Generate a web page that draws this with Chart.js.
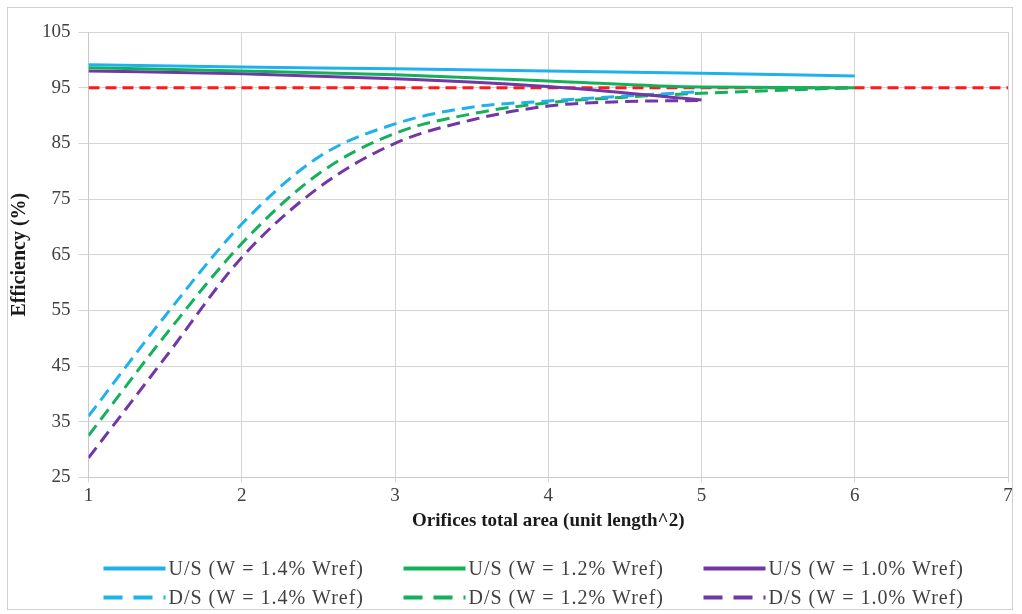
<!DOCTYPE html>
<html>
<head>
<meta charset="utf-8">
<script src="https://cdn.jsdelivr.net/npm/chart.js@4.4.1/dist/chart.umd.min.js"></script>
<style>
  html, body { margin: 0; padding: 0; background: #fff; }
  #wrap { position: relative; width: 1022px; height: 614px; }
  #frame { position: absolute; left: 7px; top: 7px; width: 1004px; height: 601px; border: 1px solid #d0d0d0; pointer-events: none; }
</style>
</head>
<body>
<div id="wrap">
  <canvas id="effChart" width="1022" height="614"></canvas>
  <div id="frame"></div>
</div>
<script>
// --- data ---
const usArea = [1, 2, 3, 4, 5, 6];
const usW14 = [99.1, 98.7, 98.4, 98.0, 97.6, 97.1];
const usW12 = [98.6, 98.0, 97.3, 96.2, 95.1, 95.0];
const usW10Area = [1, 2, 3, 4, 5];
const usW10 = [98.0, 97.5, 96.6, 95.2, 92.8];

const dsArea = [1, 1.5, 2, 2.5, 3, 3.5, 4, 4.5, 5];
const dsW14 = [36.0, 54.0, 70.5, 82.5, 88.5, 91.5, 92.6, 93.5, 94.3];
const dsW12Area = [1, 1.5, 2, 2.5, 3, 3.5, 4, 4.5, 5, 6];
const dsW12 = [32.5, 50.5, 67.0, 79.5, 86.8, 90.3, 92.3, 93.3, 94.0, 95.0];
const dsW10 = [28.5, 46.5, 64.5, 77.0, 85.0, 89.2, 91.7, 92.5, 92.7];

const limitArea = [1, 7];
const limitValue = [95, 95];

const xTicks = [1, 2, 3, 4, 5, 6, 7];
const yTicks = [25, 35, 45, 55, 65, 75, 85, 95, 105];

const BLUE = '#1fb1ee', GREEN = '#14b05a', PURPLE = '#7236a6', RED = '#ff1a1a';
const SERIF = '"Liberation Serif", "DejaVu Serif", serif';

const pts = (xs, ys) => xs.map((x, i) => ({ x: x, y: ys[i] }));

function line(label, xs, ys, color, dashed) {
  return {
    label: label,
    data: pts(xs, ys),
    borderColor: color,
    backgroundColor: color,
    borderWidth: 3,
    borderDash: dashed ? [13, 7] : [],
    pointRadius: 0,
    cubicInterpolationMode: 'monotone',
    fill: false
  };
}

// legend drawn in two rows of three, like the Excel original
const gridLegend = {
  id: 'gridLegend',
  afterDraw(chart) {
    const ctx = chart.ctx;
    const area = chart.chartArea;
    const items = chart.data.datasets.filter(d => d.label);
    ctx.save();
    ctx.font = '20px ' + SERIF;
    ctx.letterSpacing = '1px';
    ctx.textBaseline = 'middle';
    items.forEach((d, i) => {
      const col = i % 3, row = Math.floor(i / 3);
      const x = area.left + 15 + col * 300;
      const y = area.bottom + 91 + row * 29;
      ctx.strokeStyle = d.borderColor;
      ctx.lineWidth = 4;
      ctx.setLineDash(d.borderDash.length ? [19, 11] : []);
      ctx.beginPath();
      ctx.moveTo(x, y);
      ctx.lineTo(x + 62, y);
      ctx.stroke();
      ctx.fillStyle = '#404040';
      ctx.fillText(d.label, x + 65, y + 1);
    });
    ctx.restore();
  }
};

new Chart(document.getElementById('effChart').getContext('2d'), {
  type: 'line',
  data: {
    datasets: [
      line('U/S (W = 1.4% Wref)', usArea, usW14, BLUE, false),
      line('U/S (W = 1.2% Wref)', usArea, usW12, GREEN, false),
      line('U/S (W = 1.0% Wref)', usW10Area, usW10, PURPLE, false),
      line('D/S (W = 1.4% Wref)', dsArea, dsW14, BLUE, true),
      line('D/S (W = 1.2% Wref)', dsW12Area, dsW12, GREEN, true),
      line('D/S (W = 1.0% Wref)', dsArea, dsW10, PURPLE, true),
      {
        label: '',
        data: pts(limitArea, limitValue),
        borderColor: RED,
        borderWidth: 3,
        borderDash: [11, 6],
        pointRadius: 0,
        fill: false
      }
    ]
  },
  options: {
    responsive: false,
    animation: false,
    layout: { padding: { left: 6, right: 14, top: 32, bottom: 82 } },
    plugins: {
      legend: { display: false },
      tooltip: { enabled: false }
    },
    scales: {
      x: {
        type: 'linear',
        min: 1,
        max: 7,
        afterBuildTicks: axis => { axis.ticks = xTicks.map(v => ({ value: v })); },
        grid: { color: '#d4d4d4', lineWidth: 1, tickLength: 5 },
        border: { color: '#c8c8c8' },
        ticks: { color: '#404040', font: { family: SERIF, size: 19 }, padding: 2 },
        title: {
          display: true,
          text: 'Orifices total area (unit length^2)',
          color: '#1a1a1a',
          font: { family: SERIF, size: 19, weight: 'bold' },
          padding: { top: 0, bottom: 0 }
        }
      },
      y: {
        min: 25,
        max: 105,
        afterBuildTicks: axis => { axis.ticks = yTicks.map(v => ({ value: v })); },
        grid: { color: '#d4d4d4', lineWidth: 1, tickLength: 10 },
        border: { color: '#c8c8c8' },
        ticks: { color: '#404040', font: { family: SERIF, size: 19 }, padding: 8 },
        title: {
          display: true,
          text: 'Efficiency (%)',
          color: '#1a1a1a',
          font: { family: SERIF, size: 20, weight: 'bold' },
          padding: { top: 2, bottom: 2 }
        }
      }
    }
  },
  plugins: [gridLegend]
});
</script>
</body>
</html>
